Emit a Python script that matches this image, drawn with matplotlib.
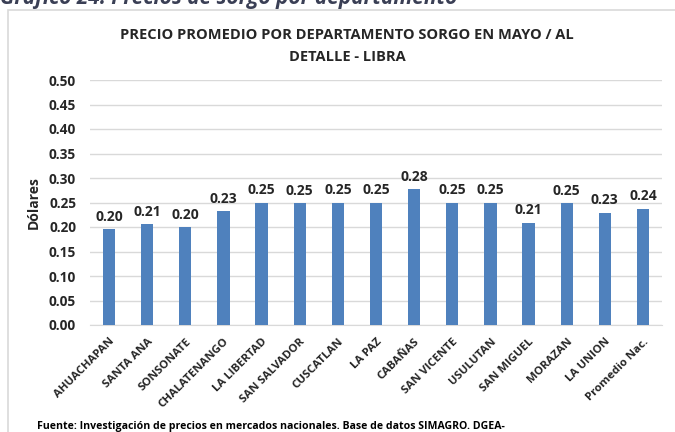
import matplotlib
matplotlib.use("Agg")
import matplotlib.pyplot as plt
import matplotlib.patches as patches

plt.rcParams['font.family'] = ['Open Sans', 'DejaVu Sans']

# data
departamentos = ['AHUACHAPAN', 'SANTA ANA', 'SONSONATE', 'CHALATENANGO', 'LA LIBERTAD',
                 'SAN SALVADOR', 'CUSCATLAN', 'LA PAZ', 'CABAÑAS', 'SAN VICENTE',
                 'USULUTAN', 'SAN MIGUEL', 'MORAZAN', 'LA UNION', 'Promedio Nac.']
precios = [0.195, 0.206, 0.200, 0.232, 0.250, 0.249, 0.250, 0.250, 0.277, 0.250,
           0.250, 0.209, 0.249, 0.229, 0.237]
yticks = [0.00, 0.05, 0.10, 0.15, 0.20, 0.25, 0.30, 0.35, 0.40, 0.45, 0.50]

W, H = 675, 432
fig = plt.figure(figsize=(6.75, 4.32), dpi=100)
fig.patch.set_facecolor('white')

# outer chart box
box = patches.Rectangle((8 / W, -0.1), 1.1, 1 - 10 / H + 0.1, transform=fig.transFigure,
                        fill=False, edgecolor='#d9d9d9', linewidth=1.2)
fig.add_artist(box)

ax = fig.add_axes([90 / W, 1 - 325 / H, (662 - 90) / W, (325 - 80) / H])
x = range(len(departamentos))
ax.bar(x, precios, width=0.32, color='#4f81bd', zorder=3)
for i, v in enumerate(precios):
    ax.text(i, v + 0.011, '{:.2f}'.format(v), ha='center', va='bottom',
            fontsize=10, fontweight='bold', color='#262626')

ax.set_xlim(-0.5, len(departamentos) - 0.5)
ax.set_ylim(0, 0.5)
ax.set_yticks(yticks)
ax.set_yticklabels(['{:.2f}'.format(t) for t in yticks], fontsize=9.8, fontweight='bold',
                   color='#262626')
ax.set_xticks(list(x))
ax.set_xticklabels(departamentos, rotation=45, ha='right', rotation_mode='anchor',
                   fontsize=8.2, fontweight='bold', color='#262626')
ax.tick_params(axis='y', length=0, pad=10)
ax.tick_params(axis='x', length=0, pad=8)
ax.grid(axis='y', color='#d9d9d9', linewidth=1, zorder=0)
for s in ['top', 'right', 'left']:
    ax.spines[s].set_visible(False)
ax.spines['bottom'].set_color('#d9d9d9')
ax.set_ylabel('Dólares', fontsize=10, fontweight='bold', labelpad=6, color='#262626')

fig.text(347 / W, 1 - 35 / H,
         'PRECIO PROMEDIO POR DEPARTAMENTO SORGO EN MAYO / AL',
         ha='center', va='center', fontsize=10.5, fontweight='bold', color='#262626')
fig.text(347 / W, 1 - 57 / H, 'DETALLE - LIBRA',
         ha='center', va='center', fontsize=10.5, fontweight='bold', color='#262626')

# cut-off caption above and source note below
fig.text(0.0, 1 - 4 / H, 'Gráfico 24. Precios de sorgo por departamento',
         ha='left', va='baseline', fontsize=15, fontweight='bold', style='italic',
         color='#3a3f55')
fig.text(37 / W, 1 - 429 / H,
         'Fuente: Investigación de precios en mercados nacionales. Base de datos SIMAGRO. DGEA-',
         ha='left', va='baseline', fontsize=7.6, fontweight='bold', color='black')

fig.savefig('out.png', dpi=100)
